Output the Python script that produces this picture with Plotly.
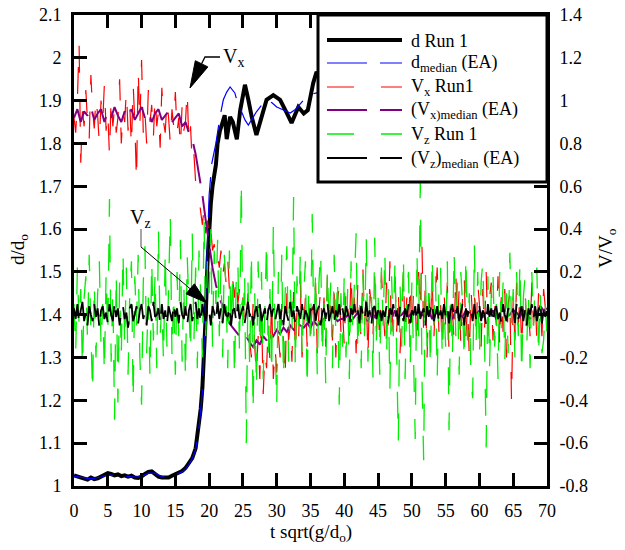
import plotly.graph_objects as go

# ---------------- data ----------------
# fine time grid (step 0.25) for the noisy velocity series
t_fine = [i * 0.25 for i in range(281)]
# coarser time grid (step 0.5) for the Vx median
t_half = [i * 0.5 for i in range(141)]

d_x = [0, 0.5, 1, 1.5, 2, 2.5, 3, 3.5, 4, 4.5, 5, 5.5, 6, 6.5, 7, 7.5, 8, 8.5, 9, 9.5,
       10, 10.5, 11, 11.5, 12, 12.5, 13, 13.5, 14, 14.5, 15, 15.5, 16, 16.5, 17, 17.5, 18, 18.5,
       18.75, 19, 19.25, 19.5, 19.75, 20, 20.25, 20.5, 20.75, 21, 21.25,
       21.6, 22, 22.3, 22.6, 23.1, 23.5, 24.1, 24.6, 25.3, 25.8, 26.3, 27, 27.8, 28.5, 29.5,
       30.5, 31.5, 32.2, 33.2, 34, 34.6, 35.4, 35.9,
       36.5, 38, 40, 42, 45, 48, 50, 53, 56, 60, 63, 66, 70]
d_run1 = [1.025, 1.022, 1.02, 1.018, 1.015, 1.02, 1.016, 1.018, 1.022, 1.025,
          1.03, 1.028, 1.025, 1.027, 1.023, 1.025, 1.022, 1.024, 1.02, 1.019,
          1.022, 1.028, 1.033, 1.034, 1.028, 1.022, 1.02, 1.021, 1.02, 1.024,
          1.027, 1.03, 1.035, 1.042, 1.052, 1.065, 1.088, 1.14,
          1.18, 1.23, 1.3, 1.4, 1.52, 1.6, 1.66, 1.7, 1.73, 1.75, 1.8,
          1.83, 1.85, 1.866, 1.81, 1.862, 1.85, 1.81, 1.878, 1.937, 1.902, 1.862, 1.82,
          1.86, 1.902, 1.913, 1.902, 1.871, 1.848, 1.885, 1.87, 1.878, 1.941, 1.967,
          1.95, 1.93, 1.95, 1.94, 1.96, 1.95, 1.97, 1.96, 1.95, 1.97, 1.96, 1.95, 1.96]

dm_x = [0, 1, 2, 3, 4, 5, 6, 7, 8, 9, 10, 11, 12, 13, 14, 15, 16,
        16.5, 17, 17.5, 18, 18.5, 19, 19.5, 20,
        20.4, 21, 21.6, 22.1, 22.6, 23.1, 23.8,
        24.3, 24.8, 25.3, 25.8, 26.4, 27, 27.8, 28.5, 29.3, 30,
        31, 32, 32.8, 33.6, 34.4, 35.2, 35.9,
        37, 40, 45, 50, 55, 60, 65, 70]
d_median = [1.023, 1.02, 1.018, 1.018, 1.021, 1.026, 1.025, 1.024, 1.022, 1.021,
            1.022, 1.03, 1.03, 1.022, 1.021, 1.026, 1.033,
            1.04, 1.05, 1.064, 1.085, 1.135, 1.22, 1.45, 1.68,
            1.754, 1.8, 1.862, 1.902, 1.92, 1.932, 1.918,
            1.89, 1.874, 1.855, 1.843, 1.86, 1.874, 1.89, 1.902, 1.895, 1.885,
            1.878, 1.871, 1.88, 1.895, 1.909, 1.915, 1.918,
            1.93, 1.94, 1.95, 1.95, 1.96, 1.96, 1.95, 1.96]

vx_run1 = [
    0.92, 0.85, 1.0, 1.27, 0.71, 0.95, 0.88, 1.05, 0.9, 0.82, 1.12, 0.95, 0.87, 1.02, 0.93, 0.8, 1.0, 0.9, 1.08, 0.86,
    0.95, 0.74, 1.02, 0.88, 0.97, 0.85, 0.92, 1.1, 0.8, 0.95, 0.9, 1.05, 0.86, 0.98, 0.78, 1.08, 0.9, 0.62, 1.15, 0.88,
    1.19, 0.85, 0.95, 0.8, 1.05, 0.9, 0.98, 0.83, 1.02, 0.88, 0.95, 0.78, 1.06, 0.9, 0.85, 1.0, 0.92, 0.8, 0.96, 0.88,
    1.04, 0.85, 0.92, 0.78, 0.98, 0.86, 0.9, 1.05, 0.8, 0.88, 0.7, 0.75, 0.62, 0.58, 0.55, 0.48, 0.42, 0.5, 0.38, 0.44,
    0.35, 0.4, 0.3, 0.33, 0.25, 0.28, 0.22, 0.3, 0.18, 0.24, 0.15, 0.26, 0.12, 0.2, 0.16, 0.08, 0.18, 0.05, 0.12, 0.02,
    0.08, -0.05, -0.02, 0.1, -0.12, -0.2, 0.05, -0.15, -0.28, -0.1, -0.3, 0.02, -0.37, -0.18, -0.25, -0.05, -0.22, 0.08, -0.3, -0.15,
    -0.27, -0.1, -0.2, 0.05, -0.15, -0.3, 0.1, -0.12, -0.05, -0.22, 0.12, -0.18, 0.02, -0.1, 0.15, -0.2, -0.05, 0.08, -0.15, 0.05,
    -0.12, 0.1, -0.05, 0.15, -0.18, 0.02, 0.12, -0.1, 0.08, -0.15, 0.18, -0.02, 0.05, -0.12, 0.1, -0.2, 0.06, 0.14, -0.08, 0.02,
    -0.15, 0.12, 0.05, -0.1, 0.2, -0.05, 0.08, -0.18, 0.15, 0.02, -0.12, 0.22, -0.05, 0.1, -0.2, 0.12, 0.05, -0.1, 0.18, -0.08,
    0.1, -0.15, 0.2, 0.02, -0.1, 0.15, -0.05, 0.25, -0.12, 0.08, 0.18, -0.08, 0.12, -0.18, 0.05, 0.2, -0.1, 0.08, -0.05, 0.15,
    -0.1, 0.12, 0.05, -0.15, 0.2, 0.02, 0.32, -0.1, 0.15, -0.2, 0.1, -0.05, 0.18, -0.12, 0.08, 0.22, -0.08, 0.05, -0.15, 0.12,
    -0.05, 0.15, -0.18, 0.1, 0.02, -0.12, 0.2, -0.05, 0.12, -0.15, 0.08, 0.18, -0.1, 0.05, -0.2, 0.12, -0.02, 0.1, -0.12, 0.15,
    0.05, -0.15, 0.12, -0.08, 0.2, -0.1, 0.08, 0.15, -0.12, 0.05, -0.05, 0.18, -0.15, 0.1, -0.08, 0.12, -0.2, 0.05, 0.1, -0.41,
    0.08, -0.12, 0.15, -0.05, 0.1, -0.15, 0.05, 0.12, -0.08, 0.02, -0.1, 0.15, -0.05, 0.08, -0.12, 0.1, 0.05, -0.1, 0.12, 0.02,
    -0.05]

vx_median = [
    0.92, 0.96, 0.9, 0.95, 0.93, 0.97, 0.91, 0.94, 0.96, 0.9, 0.95, 0.92, 0.97, 0.93, 0.9, 0.95, 0.92, 0.96, 0.91, 0.94,
    0.97, 0.92, 0.95, 0.9, 0.94, 0.96, 0.91, 0.93, 0.95, 0.9, 0.92, 0.94, 0.88, 0.9, 0.85, 0.82, 0.75, 0.66, 0.56, 0.44,
    0.32, 0.22, 0.14, 0.08, 0.04, 0.0, -0.04, -0.06, -0.08, -0.1, -0.12, -0.1, -0.13, -0.15, -0.12, -0.14, -0.1, -0.12, -0.08, -0.1,
    -0.07, -0.09, -0.06, -0.08, -0.05, -0.07, -0.09, -0.05, -0.06, -0.04, -0.06, -0.03, -0.05, -0.04, -0.02, -0.04, -0.03, -0.01, -0.03, -0.02,
    -0.02, 0.0, -0.03, -0.01, 0.01, -0.02, 0.0, -0.03, 0.01, -0.01, 0.02, -0.02, 0.0, 0.01, -0.02, 0.02, -0.01, 0.0, 0.02, -0.01,
    0.01, -0.02, 0.02, 0.0, -0.01, 0.02, -0.02, 0.01, 0.0, 0.02, -0.01, 0.01, -0.02, 0.02, 0.0, -0.01, 0.02, 0.01, -0.02, 0.0,
    0.02, -0.01, 0.01, 0.0, 0.02, -0.02, 0.01, 0.02, -0.01, 0.0, 0.02, 0.01, -0.01, 0.02, 0.0, -0.02, 0.03, 0.01, 0.04, 0.02,
    0.03]

vz_run1 = [
    0.05, -0.18, 0.22, -0.05, 0.12, -0.25, 0.08, 0.18, -0.12, 0.28, -0.08, -0.37, 0.15, -0.2, 0.1, 0.25, -0.15, 0.05, -0.28, 0.2,
    -0.1, 0.54, -0.22, 0.12, -0.49, 0.2, -0.41, 0.15, -0.2, 0.3, -0.15, 0.22, -0.28, 0.1, 0.25, -0.41, 0.18, -0.05, 0.28, -0.2,
    -0.42, 0.15, 0.32, -0.18, 0.08, -0.3, 0.26, -0.12, 0.2, -0.25, 0.4, -0.1, 0.05, -0.22, 0.3, -0.15, 0.12, 0.47, -0.2, 0.1,
    -0.28, 0.2, -0.1, 0.35, -0.22, 0.15, -0.3, 0.28, 0.05, -0.18, 0.38, -0.12, 0.22, -0.25, 0.3, 0.1, -0.2, 0.45, -0.1, 0.25,
    0.1, 0.4, -0.15, 0.3, 0.05, 0.35, -0.1, 0.22, -0.2, 0.28, 0.12, -0.25, 0.3, -0.05, 0.2, -0.3, 0.15, 0.25, -0.18, 0.63,
    -0.1, 0.2, -0.6, 0.15, -0.25, 0.3, -0.46, 0.1, -0.35, 0.25, -0.15, 0.2, -0.3, 0.05, 0.35, -0.2, 0.12, -0.28, 0.42, -0.1,
    -0.43, 0.2, -0.15, 0.28, -0.3, 0.1, 0.32, -0.22, 0.15, -0.1, 0.55, -0.25, 0.18, -0.05, 0.3, -0.2, 0.1, 0.25, -0.35, 0.12,
    -0.15, 0.47, -0.1, 0.2, -0.28, 0.15, 0.3, -0.2, 0.08, -0.32, 0.22, -0.05, 0.15, -0.25, 0.28, -0.1, 0.18, -0.42, 0.1, -0.15,
    0.2, -0.2, 0.12, -0.3, 0.25, -0.08, 0.15, 0.38, -0.18, 0.1, -0.25, 0.2, -0.1, 0.36, -0.22, 0.08, 0.15, -0.3, 0.36, -0.12,
    0.1, -0.28, 0.22, -0.05, 0.3, -0.2, 0.12, -0.35, 0.18, -0.1, 0.25, -0.22, -0.6, 0.15, -0.15, 0.28, -0.3, 0.1, 0.2, -0.25,
    0.15, -0.2, -0.58, 0.3, -0.1, 0.62, -0.3, -0.68, 0.2, -0.15, 0.1, -0.25, 0.28, -0.05, 0.18, -0.3, 0.12, 0.22, -0.2, 0.05,
    -0.15, 0.25, -0.54, 0.1, -0.2, 0.3, -0.1, 0.15, -0.28, 0.2, 0.05, -0.22, 0.28, -0.12, 0.1, -0.3, -0.39, 0.33, -0.15, 0.2,
    -0.2, 0.15, 0.25, -0.1, -0.62, 0.18, -0.25, 0.1, 0.22, -0.15, 0.05, -0.3, 0.2, -0.08, 0.15, -0.22, 0.1, -0.18, 0.29, -0.05,
    0.12, -0.2, 0.2, -0.1, 0.25, -0.28, 0.08, 0.18, -0.15, 0.1, -0.25, 0.2, -0.05, 0.15, 0.22, -0.2, 0.1, -0.18, -0.12, 0.05,
    -0.1]

vz_median = [
    0.03, -0.02, 0.05, -0.04, 0.02, 0.06, -0.03, 0.01, -0.05, 0.04, 0.0, -0.03, 0.05, -0.01, 0.03, -0.06, 0.02, 0.04, -0.02, 0.01,
    -0.04, 0.05, 0.0, -0.03, 0.06, -0.01, 0.03, -0.05, 0.02, 0.04, -0.02, 0.01, -0.06, 0.03, 0.05, -0.03, 0.0, 0.04, -0.04, 0.02,
    0.05, -0.02, 0.01, -0.05, 0.04, 0.02, -0.03, 0.06, -0.01, 0.0, 0.03, -0.04, 0.05, -0.02, 0.02, -0.05, 0.04, 0.01, -0.03, 0.05,
    -0.01, 0.03, -0.04, 0.06, 0.0, -0.02, 0.04, -0.05, 0.02, 0.05, -0.03, 0.01, 0.06, -0.02, 0.03, -0.04, 0.05, 0.0, -0.03, 0.04,
    0.02, -0.05, 0.04, 0.01, -0.03, 0.06, -0.02, 0.03, -0.04, 0.05, 0.0, -0.01, 0.04, -0.05, 0.02, 0.03, -0.03, 0.05, -0.02, 0.01,
    0.04, -0.04, 0.02, 0.06, -0.01, 0.03, -0.05, 0.01, 0.04, -0.02, 0.05, -0.03, 0.0, 0.03, -0.04, 0.02, 0.05, -0.01, 0.03, -0.03,
    0.01, 0.05, -0.02, 0.03, -0.05, 0.04, 0.0, -0.03, 0.06, -0.01, 0.02, -0.04, 0.04, 0.01, -0.02, 0.05, -0.03, 0.02, 0.0, -0.04,
    0.03, -0.01, 0.05, -0.03, 0.02, 0.04, -0.05, 0.01, 0.03, -0.02, 0.06, -0.03, 0.0, 0.04, -0.04, 0.02, -0.01, 0.05, -0.02, 0.03,
    -0.03, 0.04, 0.01, -0.05, 0.03, 0.0, 0.05, -0.02, 0.02, -0.04, 0.04, 0.01, -0.03, 0.06, -0.01, 0.02, -0.05, 0.03, 0.04, -0.02,
    0.01, 0.05, -0.03, 0.02, -0.01, 0.04, -0.04, 0.03, 0.0, 0.05, -0.02, 0.02, -0.05, 0.04, 0.01, -0.03, 0.03, -0.01, 0.05, -0.04,
    0.02, 0.0, 0.04, -0.03, 0.05, -0.02, 0.01, 0.03, -0.05, 0.04, -0.01, 0.02, 0.06, -0.03, 0.0, 0.04, -0.04, 0.02, -0.02, 0.05,
    -0.01, 0.03, -0.04, 0.02, 0.05, -0.02, 0.0, 0.04, -0.03, 0.01, 0.05, -0.05, 0.03, -0.01, 0.04, 0.02, -0.03, 0.05, -0.02, 0.01,
    0.04, -0.03, 0.02, 0.0, -0.05, 0.05, -0.01, 0.03, -0.04, 0.02, 0.04, -0.02, 0.01, -0.04, 0.05, 0.0, -0.03, 0.03, 0.02, -0.01,
    0.03, -0.04, 0.05, -0.02, 0.01, 0.04, -0.03, 0.02, -0.05, 0.03, 0.0, 0.05, -0.02, 0.04, -0.03, 0.01, 0.06, -0.04, 0.02, -0.01,
    0.03]

v_tickvals = [-0.8, -0.6, -0.4, -0.2, 0, 0.2, 0.4, 0.6, 0.8, 1, 1.2, 1.4]
v_ticktext = ["-0.8", "-0.6", "-0.4", "-0.2", "0", "0.2", "0.4", "0.6", "0.8", "1", "1.2", "1.4"]

legend_labels = ["d Run 1", "d<sub>median</sub> (EA)", "V<sub>x</sub> Run1",
                 "(V<sub>x)median</sub> (EA)", "V<sub>z</sub> Run 1",
                 "(V<sub>z</sub>)<sub>median</sub> (EA)"]

x_title = "t sqrt(g/d<sub>o</sub>)"
y_title = "d/d<sub>o</sub>"
y2_title = "V/V<sub>o</sub>"

# ---------------- styling ----------------
FONT = "Liberation Serif"
PAGE_W, PAGE_H = 625, 550
OFF = 8                      # default body margin of the html page
W, H = PAGE_W - OFF, PAGE_H - OFF
# plot-area edges in page pixels
PL, PR, PT, PB = 74, 547, 15, 486
DASH_LONG = "40px,13px"
DASH_MED = "27px,27px"
styles = [
    dict(color="black", width=4, dash="solid"),
    dict(color="#0000ff", width=1.2, dash=DASH_LONG),
    dict(color="#ff0000", width=1.2, dash=DASH_MED),
    dict(color="#800080", width=2, dash=DASH_LONG),
    dict(color="#00ee00", width=1.3, dash=DASH_MED),
    dict(color="black", width=1.8, dash=DASH_LONG),
]


def px(xp):
    return (xp - PL) / (PR - PL)


def py(yp):
    return (PB - yp) / (PB - PT)


fig = go.Figure()
fig.add_trace(go.Scatter(x=d_x, y=d_run1, mode="lines", line=styles[0], name=legend_labels[0]))
fig.add_trace(go.Scatter(x=dm_x, y=d_median, mode="lines", line=styles[1], name=legend_labels[1]))
fig.add_trace(go.Scatter(x=t_fine, y=vx_run1, mode="lines", line=styles[2], name=legend_labels[2], yaxis="y2"))
fig.add_trace(go.Scatter(x=t_half, y=vx_median, mode="lines", line=styles[3], name=legend_labels[3], yaxis="y2"))
fig.add_trace(go.Scatter(x=t_fine, y=vz_run1, mode="lines", line=styles[4], name=legend_labels[4], yaxis="y2"))
fig.add_trace(go.Scatter(x=t_fine, y=vz_median, mode="lines", line=styles[5], name=legend_labels[5], yaxis="y2"))

axis_common = dict(
    showgrid=False, zeroline=False, showline=True, linecolor="black", linewidth=3,
    ticks="inside", ticklen=13, tickwidth=2.5, tickcolor="black", automargin=False,
    ticklabeloverflow="allow",
    tickfont=dict(family=FONT, size=18, color="black"),
)

shapes = []
annotations = []

# legend box
shapes.append(dict(type="rect", xref="paper", yref="paper", layer="above",
                   x0=px(318), x1=px(547), y0=py(182), y1=py(15),
                   line=dict(color="black", width=3), fillcolor="white"))
leg_y = [40, 63, 87, 110, 134, 158]
for i, (lab, st) in enumerate(zip(legend_labels, styles)):
    shapes.append(dict(type="line", xref="paper", yref="paper", layer="above",
                       x0=px(327), x1=px(402), y0=py(leg_y[i]), y1=py(leg_y[i]),
                       line=dict(color=st["color"], width=st["width"] if i != 0 else 4,
                                 dash=st["dash"])))
    annotations.append(dict(text=lab, xref="paper", yref="paper", x=px(409), y=py(leg_y[i] + 1),
                            xanchor="left", yanchor="middle", showarrow=False,
                            font=dict(family=FONT, size=18, color="black")))

# V_x pointer
shapes.append(dict(type="path", xref="paper", yref="paper", layer="above",
                   path=f"M {px(220)},{py(57)} L {px(205)},{py(57)} L {px(201.6)},{py(63.8)}",
                   line=dict(color="black", width=1.3)))
shapes.append(dict(type="path", xref="paper", yref="paper", layer="above",
                   path=f"M {px(190)},{py(88)} L {px(195.3)},{py(60.7)} L {px(207.9)},{py(66.9)} Z",
                   line=dict(color="black", width=1), fillcolor="black"))
annotations.append(dict(text="V<sub>x</sub>", xref="paper", yref="paper", x=px(221), y=py(58),
                        xanchor="left", yanchor="middle", showarrow=False,
                        font=dict(family=FONT, size=20, color="black")))

# V_z pointer
shapes.append(dict(type="line", xref="paper", yref="paper", layer="above",
                   x0=px(141), x1=px(141), y0=py(229), y1=py(247),
                   line=dict(color="#888888", width=1.5)))
shapes.append(dict(type="line", xref="paper", yref="paper", layer="above",
                   x0=px(141), x1=px(190.2), y0=py(247), y1=py(288.8),
                   line=dict(color="black", width=1)))
shapes.append(dict(type="path", xref="paper", yref="paper", layer="above",
                   path=f"M {px(207)},{py(303)} L {px(186)},{py(293.8)} L {px(194.4)},{py(283.8)} Z",
                   line=dict(color="black", width=1), fillcolor="black"))
annotations.append(dict(text="V<sub>z</sub>", xref="paper", yref="paper", x=px(140), y=py(218),
                        xanchor="center", yanchor="middle", showarrow=False,
                        font=dict(family=FONT, size=20, color="black")))

# axis titles
annotations.append(dict(text=x_title, xref="paper", yref="paper", x=px(311), y=py(533),
                        xanchor="center", yanchor="middle", showarrow=False,
                        font=dict(family=FONT, size=19, color="black")))
annotations.append(dict(text=y_title, xref="paper", yref="paper", x=px(19), y=py(250),
                        xanchor="center", yanchor="middle", showarrow=False, textangle=-90,
                        font=dict(family=FONT, size=19, color="black")))
annotations.append(dict(text=y2_title, xref="paper", yref="paper", x=px(607), y=py(248),
                        xanchor="center", yanchor="middle", showarrow=False, textangle=-90,
                        font=dict(family=FONT, size=19, color="black")))

fig.update_layout(
    width=W, height=H,
    margin=dict(l=PL - OFF, r=PAGE_W - PR, t=PT - OFF, b=PAGE_H - PB, pad=0, autoexpand=False),
    paper_bgcolor="white", plot_bgcolor="white",
    showlegend=False,
    font=dict(family=FONT, size=18, color="black"),
    xaxis=dict(range=[0, 70], dtick=5, tick0=0, mirror="ticks", ticklabelstandoff=6,
               **axis_common),
    yaxis=dict(range=[1, 2.1], dtick=0.1, tick0=1, ticklabelstandoff=6,
               **axis_common),
    yaxis2=dict(range=[-0.8, 1.4], overlaying="y", side="right",
                tickvals=v_tickvals, ticktext=v_ticktext, ticklabelstandoff=6,
                **axis_common),
    shapes=shapes,
    annotations=annotations,
)

fig.write_html("out.html")
